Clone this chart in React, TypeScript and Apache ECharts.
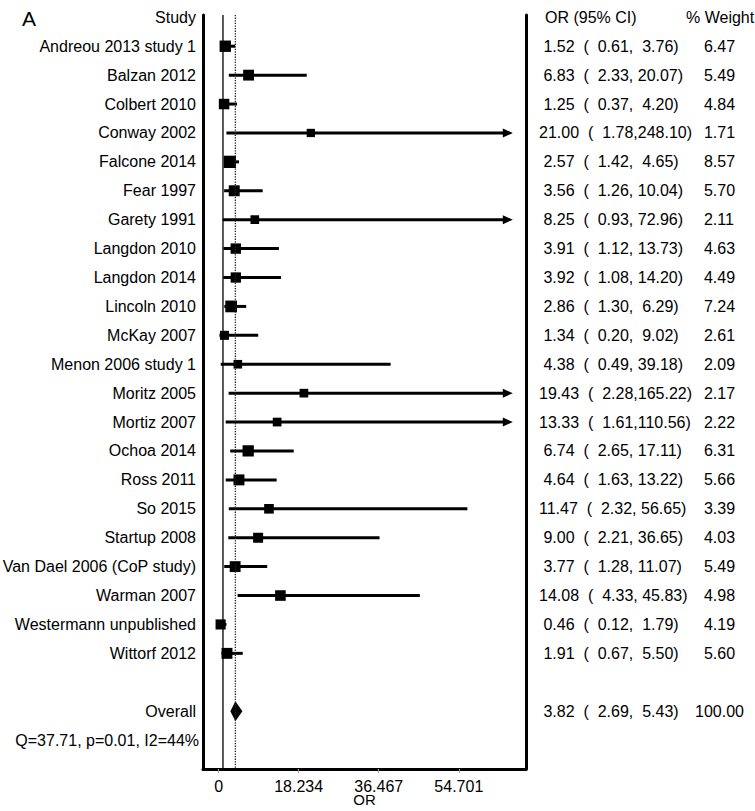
import React, { useEffect, useRef } from "react";
import * as echarts from "echarts";

const studies = [
  "Andreou 2013 study 1", "Balzan 2012", "Colbert 2010", "Conway 2002", "Falcone 2014",
  "Fear 1997", "Garety 1991", "Langdon 2010", "Langdon 2014", "Lincoln 2010", "McKay 2007",
  "Menon 2006 study 1", "Moritz 2005", "Mortiz 2007", "Ochoa 2014", "Ross 2011", "So 2015",
  "Startup 2008", "Van Dael 2006 (CoP study)", "Warman 2007", "Westermann unpublished", "Wittorf 2012",
];
const oddsRatio = [1.52, 6.83, 1.25, 21.0, 2.57, 3.56, 8.25, 3.91, 3.92, 2.86, 1.34, 4.38, 19.43, 13.33, 6.74, 4.64, 11.47, 9.0, 3.77, 14.08, 0.46, 1.91];
const ciLower = [0.61, 2.33, 0.37, 1.78, 1.42, 1.26, 0.93, 1.12, 1.08, 1.3, 0.2, 0.49, 2.28, 1.61, 2.65, 1.63, 2.32, 2.21, 1.28, 4.33, 0.12, 0.67];
const ciUpper = [3.76, 20.07, 4.2, 248.1, 4.65, 10.04, 72.96, 13.73, 14.2, 6.29, 9.02, 39.18, 165.22, 110.56, 17.11, 13.22, 56.65, 36.65, 11.07, 45.83, 1.79, 5.5];
const weights = [6.47, 5.49, 4.84, 1.71, 8.57, 5.7, 2.11, 4.63, 4.49, 7.24, 2.61, 2.09, 2.17, 2.22, 6.31, 5.66, 3.39, 4.03, 5.49, 4.98, 4.19, 5.6];
const overallLabel = "Overall";
const overallOR = 3.82;
const overallLower = 2.69;
const overallUpper = 5.43;
const overallWeight = 100.0;
const heterogeneity = "Q=37.71, p=0.01, I2=44%";
const xTicks = [0, 18.234, 36.467, 54.701];
const headers = ["Study", "OR (95% CI)", "% Weight"];
const xAxisTitle = "OR";
const nullValue = 1;

const FONT = "'Liberation Sans', Arial, Helvetica, sans-serif";
const FS = 16;
const X_MIN = -3.55;
const X_MAX = 70;
const ARROW_TIP = 67.0;
const Y_MIN = -0.08;
const Y_MAX = 26;
const HEADER_ROW = 0;
const OVERALL_ROW = 24;
const Q_ROW = 25;
const NAME_X = 196;
const OR_X = 539;
const W_X = 695;

const NB = "\u00A0";
const pad = (v: number, n: number) => {
  const s = v.toFixed(2);
  return NB.repeat(Math.max(0, n - s.length)) + s;
};
const orText = (o: number, l: number, h: number) =>
  `${pad(o, 5)}${NB}${NB}(${pad(l, 6)},${pad(h, 6)})`;

const txt = (x: number, y: number, text: string, align: string, size = FS) => ({
  type: "text",
  x,
  y,
  style: {
    text,
    fill: "#000",
    fontSize: size,
    fontFamily: FONT,
    align,
    verticalAlign: "middle",
  },
});

export default function App() {
  const ref = useRef<HTMLDivElement>(null);
  useEffect(() => {
    if (!ref.current) return;
    const chart = echarts.init(ref.current, null, { renderer: "svg" });
    const studyData = studies.map((_, i) => [i + 1, oddsRatio[i], ciLower[i], ciUpper[i], weights[i]]);

    const option: any = {
      animation: false,
      title: {
        text: "A",
        left: 17,
        top: 3,
        textStyle: { fontSize: 21, fontWeight: "normal", fontFamily: FONT, color: "#000" },
      },
      graphic: [
        {
          type: "text",
          x: 364.5,
          y: 799,
          style: {
            text: xAxisTitle,
            fill: "#000",
            fontSize: 15,
            fontFamily: FONT,
            align: "center",
            verticalAlign: "middle",
          },
        },
      ],
      grid: { left: 203, right: 229, top: 15, bottom: 42, containLabel: false, outerBoundsMode: "none" },
      xAxis: {
        type: "value",
        min: X_MIN,
        max: X_MAX,
        axisLine: { show: true, onZero: false, lineStyle: { color: "#000", width: 3 } },
        axisTick: { show: true, customValues: xTicks, length: 4, lineStyle: { color: "#999", width: 1 } },
        axisLabel: {
          customValues: xTicks,
          fontSize: FS,
          fontFamily: FONT,
          color: "#000",
          margin: 9,
          formatter: (v: number) => String(v),
        },
        splitLine: { show: false },
      },
      yAxis: [
        {
          type: "value",
          min: Y_MIN,
          max: Y_MAX,
          inverse: true,
          position: "left",
          axisLine: { show: true, onZero: false, lineStyle: { color: "#000", width: 3 } },
          axisTick: { show: false },
          axisLabel: { show: false },
          splitLine: { show: false },
        },
        {
          type: "value",
          min: Y_MIN,
          max: Y_MAX,
          inverse: true,
          position: "right",
          axisLine: { show: true, onZero: false, lineStyle: { color: "#000", width: 3 } },
          axisTick: { show: false },
          axisLabel: { show: false },
          splitLine: { show: false },
        },
      ],
      series: [
        {
          type: "line",
          data: [[nullValue, Y_MIN], [nullValue, Y_MAX]],
          symbol: "none",
          lineStyle: { color: "#000", width: 1.3 },
          silent: true,
        },
        {
          type: "line",
          data: [[overallOR, Y_MIN], [overallOR, Y_MAX]],
          symbol: "none",
          lineStyle: { color: "#222", width: 1.3, type: [1.3, 1.3] },
          silent: true,
        },
        {
          type: "custom",
          silent: true,
          data: studyData,
          renderItem: (params: any, api: any) => {
            const i = params.dataIndex;
            const row = api.value(0);
            const or = api.value(1);
            const lo = api.value(2);
            const hi = api.value(3);
            const w = api.value(4);
            const clipped = hi > ARROW_TIP;
            const pLo = api.coord([lo, row]);
            const y = pLo[1];
            const xOr = api.coord([or, row])[0];
            const xHi = api.coord([clipped ? ARROW_TIP : hi, row])[0];
            const side = 5 + 2.5 * Math.sqrt(w);
            const children: any[] = [
              {
                type: "line",
                shape: { x1: pLo[0], y1: y, x2: clipped ? xHi - 8 : xHi, y2: y },
                style: { stroke: "#000", lineWidth: 3 },
              },
              {
                type: "rect",
                shape: { x: xOr - side / 2, y: y - side / 2, width: side, height: side },
                style: { fill: "#000" },
              },
              txt(NAME_X, y, studies[i], "right"),
              txt(OR_X, y, orText(or, lo, hi), "left"),
              txt(W_X, y, pad(w, 6), "left"),
            ];
            if (clipped) {
              children.push({
                type: "polygon",
                shape: { points: [[xHi, y], [xHi - 10, y - 4.5], [xHi - 10, y + 4.5]] },
                style: { fill: "#000" },
              });
            }
            return { type: "group", children };
          },
        },
        {
          type: "custom",
          silent: true,
          data: [[OVERALL_ROW, overallOR, overallLower, overallUpper, overallWeight]],
          renderItem: (params: any, api: any) => {
            const row = api.value(0);
            const or = api.value(1);
            const lo = api.value(2);
            const hi = api.value(3);
            const w = api.value(4);
            const pOr = api.coord([or, row]);
            const y = pOr[1];
            const xLo = api.coord([lo, row])[0];
            const xHi = api.coord([hi, row])[0];
            return {
              type: "group",
              children: [
                {
                  type: "polygon",
                  shape: { points: [[xLo, y], [pOr[0], y - 10], [xHi, y], [pOr[0], y + 10]] },
                  style: { fill: "#000" },
                },
                txt(NAME_X, y, overallLabel, "right"),
                txt(OR_X, y, orText(or, lo, hi), "left"),
                txt(W_X, y, pad(w, 6), "left"),
              ],
            };
          },
        },
        {
          type: "custom",
          silent: true,
          data: [[HEADER_ROW], [Q_ROW]],
          renderItem: (params: any, api: any) => {
            const row = api.value(0);
            const y = api.coord([0, row])[1];
            if (params.dataIndex === 0) {
              return {
                type: "group",
                children: [
                  txt(NAME_X, y, headers[0], "right"),
                  txt(OR_X + 6, y, headers[1], "left"),
                  txt(W_X - 9, y, headers[2], "left"),
                ],
              };
            }
            return { type: "group", children: [txt(NAME_X + 3, y, heterogeneity, "right")] };
          },
        },
      ],
    };
    chart.setOption(option);
    return () => chart.dispose();
  }, []);
  return (
    <div
      ref={ref}
      style={{ position: "fixed", left: 0, top: 0, width: 755, height: 811, background: "#fff" }}
    />
  );
}
